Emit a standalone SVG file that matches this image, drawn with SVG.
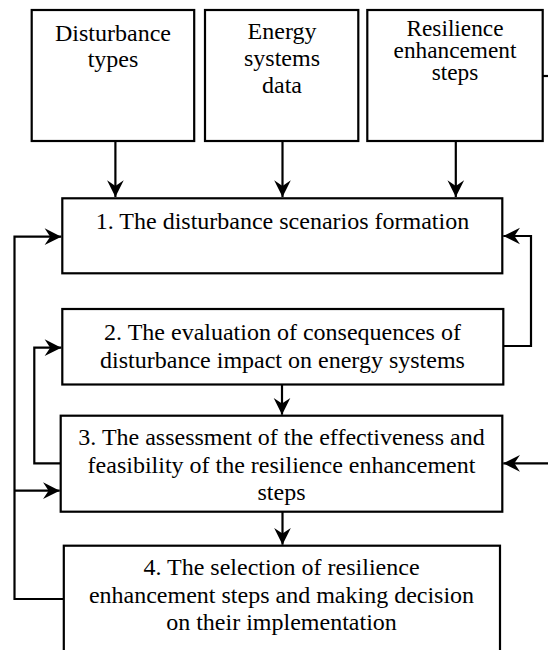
<svg xmlns="http://www.w3.org/2000/svg" width="548" height="650" viewBox="0 0 548 650">
<style>
.box{fill:#fff;stroke:#000;stroke-width:2.2}
.c{fill:none;stroke:#000;stroke-width:2.2}
</style>
<defs>
<marker id="ah" markerUnits="userSpaceOnUse" markerWidth="20" markerHeight="20" viewBox="-16 -9 18 18" refX="0" refY="0" orient="auto">
<path d="M0,0 L-15,-7.5 L-10,0 L-15,7.5 Z" fill="#000"/>
</marker>
</defs>
<rect width="548" height="650" fill="#fff"/>
<g id="nA">
<rect class="box" x="31.7" y="10" width="162.5" height="131"/>
<text x="113" y="40.7" font-family="Liberation Serif" font-size="24" text-anchor="middle">Disturbance</text>
<text x="113" y="66.7" font-family="Liberation Serif" font-size="24" text-anchor="middle">types</text>
</g>
<g id="nB">
<rect class="box" x="205" y="10" width="153.3" height="131"/>
<text x="282" y="39.3" font-family="Liberation Serif" font-size="24" text-anchor="middle">Energy</text>
<text x="282" y="66.3" font-family="Liberation Serif" font-size="24" text-anchor="middle">systems</text>
<text x="282" y="93.3" font-family="Liberation Serif" font-size="24" text-anchor="middle">data</text>
</g>
<g id="nC">
<rect class="box" x="367.3" y="10" width="175.4" height="131"/>
<text x="455" y="36" font-family="Liberation Serif" font-size="23.3" text-anchor="middle">Resilience</text>
<text x="455" y="58.2" font-family="Liberation Serif" font-size="23.3" text-anchor="middle">enhancement</text>
<text x="455" y="80.2" font-family="Liberation Serif" font-size="23.3" text-anchor="middle">steps</text>
</g>
<g id="n1">
<rect class="box" x="62.3" y="198.3" width="440" height="75"/>
<text x="282.5" y="228.5" font-family="Liberation Serif" font-size="24" text-anchor="middle">1. The disturbance scenarios formation</text>
</g>
<g id="n2">
<rect class="box" x="62.3" y="309" width="441" height="75.5"/>
<text x="282.5" y="340" font-family="Liberation Serif" font-size="24" text-anchor="middle">2. The evaluation of consequences of</text>
<text x="282.5" y="367.5" font-family="Liberation Serif" font-size="24" text-anchor="middle">disturbance impact on energy systems</text>
</g>
<g id="n3">
<rect class="box" x="60.7" y="415.7" width="441.6" height="96"/>
<text x="281.5" y="445" font-family="Liberation Serif" font-size="24" text-anchor="middle">3. The assessment of the effectiveness and</text>
<text x="281.5" y="472.5" font-family="Liberation Serif" font-size="24" text-anchor="middle">feasibility of the resilience enhancement</text>
<text x="281.5" y="500" font-family="Liberation Serif" font-size="24" text-anchor="middle">steps</text>
</g>
<g id="n4">
<rect class="box" x="63.8" y="545.7" width="436.2" height="120"/>
<text x="281.5" y="575" font-family="Liberation Serif" font-size="24" text-anchor="middle">4. The selection of resilience</text>
<text x="281.5" y="602.5" font-family="Liberation Serif" font-size="24" text-anchor="middle">enhancement steps and making decision</text>
<text x="281.5" y="630" font-family="Liberation Serif" font-size="24" text-anchor="middle">on their implementation</text>
</g>
<g id="connectors">
<line class="c" x1="115.4" y1="141" x2="115.4" y2="197" marker-end="url(#ah)"/>
<line class="c" x1="282.5" y1="141" x2="282.5" y2="197" marker-end="url(#ah)"/>
<line class="c" x1="455.8" y1="141" x2="455.8" y2="197" marker-end="url(#ah)"/>
<line class="c" x1="542.7" y1="76" x2="548" y2="76"/>
<polyline class="c" points="63.8,599 14.5,599 14.5,236.7 61.3,236.7" marker-end="url(#ah)"/>
<line class="c" x1="14.5" y1="490.7" x2="59.7" y2="490.7" marker-end="url(#ah)"/>
<polyline class="c" points="503.3,346 531,346 531,236 503.3,236" marker-end="url(#ah)"/>
<polyline class="c" points="60.7,463.3 34.3,463.3 34.3,347.7 61.3,347.7" marker-end="url(#ah)"/>
<line class="c" x1="548" y1="463.3" x2="503.3" y2="463.3" marker-end="url(#ah)"/>
<line class="c" x1="282" y1="384.5" x2="282" y2="414.7" marker-end="url(#ah)"/>
<line class="c" x1="282.5" y1="511.7" x2="282.5" y2="544.7" marker-end="url(#ah)"/>
</g>
</svg>
